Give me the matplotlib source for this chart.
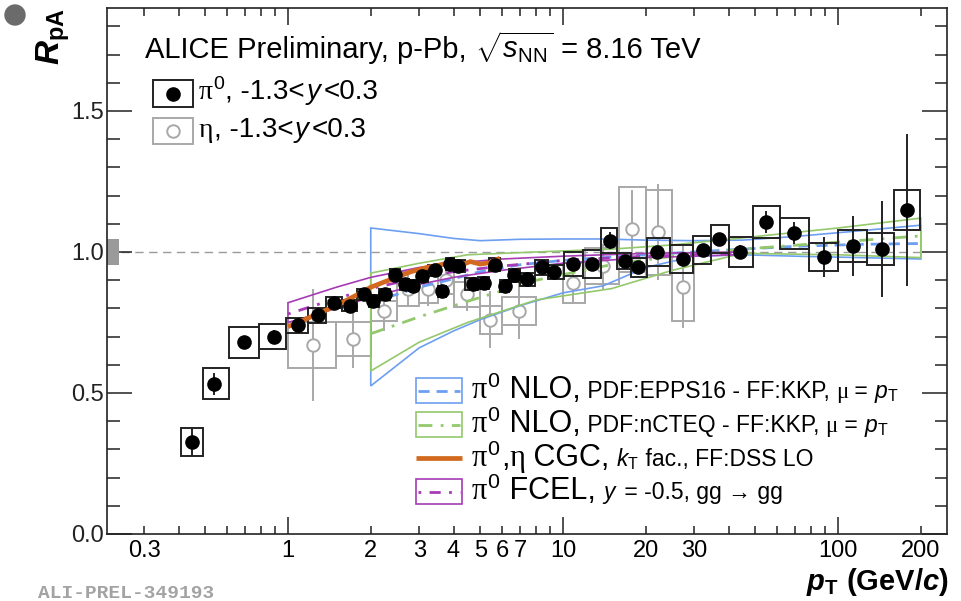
import numpy as np
import matplotlib
matplotlib.use('Agg')
import matplotlib.pyplot as plt
from matplotlib.patches import Rectangle, Circle
from matplotlib.offsetbox import TextArea, HPacker, AnnotationBbox
from matplotlib.ticker import FixedLocator, NullFormatter
import matplotlib.transforms as mtrans

plt.rcParams['font.family'] = ['Liberation Sans', 'DejaVu Sans']
plt.rcParams['mathtext.fontset'] = 'custom'
plt.rcParams['mathtext.rm'] = 'Liberation Sans'
plt.rcParams['mathtext.it'] = 'Liberation Sans:italic'
plt.rcParams['mathtext.bf'] = 'Liberation Sans:bold'
plt.rcParams['mathtext.bfit'] = 'Liberation Sans:bold:italic'

# ---------------- data ----------------
pi0_pt = [0.448, 0.538, 0.69, 0.89, 1.09, 1.29, 1.47, 1.68, 1.89, 2.04, 2.25, 2.45, 2.66, 2.85,
          3.07, 3.42, 3.63, 3.88, 4.15, 4.7, 5.16, 5.66, 6.15, 6.63, 7.4, 8.4, 9.3, 10.9, 12.8,
          14.8, 16.8, 18.7, 21.9, 27.3, 32.3, 36.9, 44.0, 54.6, 69.0, 88.9, 113.0, 144.0, 178.0]
pi0_R = [0.326, 0.532, 0.68, 0.70, 0.74, 0.775, 0.82, 0.81, 0.85, 0.826, 0.85, 0.92, 0.885, 0.88,
         0.915, 0.935, 0.86, 0.957, 0.95, 0.886, 0.89, 0.955, 0.88, 0.917, 0.903, 0.945, 0.93, 0.956,
         0.957, 1.04, 0.968, 0.945, 1.0, 0.975, 1.007, 1.045, 1.0, 1.106, 1.067, 0.982, 1.02, 1.01, 1.149]
pi0_stat = [0.05, 0.04, 0.02, 0.025, 0.015, 0.015, 0.012, 0.012, 0.01, 0.01, 0.01, 0.01, 0.01, 0.01,
            0.01, 0.01, 0.01, 0.01, 0.01, 0.01, 0.01, 0.012, 0.012, 0.012, 0.012, 0.012, 0.012, 0.015,
            0.015, 0.03, 0.02, 0.02, 0.02, 0.02, 0.02, 0.02, 0.025, 0.04, 0.04, 0.07, 0.107, 0.17, 0.27]
pi0_sys = [0.05, 0.055, 0.055, 0.043, 0.027, 0.027, 0.02, 0.02, 0.02, 0.02, 0.02, 0.02, 0.02, 0.02,
           0.02, 0.02, 0.02, 0.02, 0.02, 0.022, 0.022, 0.022, 0.022, 0.022, 0.022, 0.025, 0.025, 0.043,
           0.05, 0.045, 0.03, 0.035, 0.048, 0.05, 0.048, 0.05, 0.052, 0.057, 0.055, 0.05, 0.057, 0.057, 0.07]

eta_pt = [1.23, 1.73, 2.24, 2.73, 3.24, 3.74, 4.47, 5.45, 6.9, 10.9, 14.0, 17.8, 22.2, 27.4]
eta_bin_lo = [1.0, 1.5, 2.0, 2.5, 3.0, 3.5, 4.0, 5.0, 6.0, 10.0, 12.0, 16.0, 20.0, 25.0]
eta_bin_hi = [1.5, 2.0, 2.5, 3.0, 3.5, 4.0, 5.0, 6.0, 8.0, 12.0, 16.0, 20.0, 25.0, 30.0]
eta_R = [0.67, 0.69, 0.79, 0.87, 0.87, 0.90, 0.85, 0.76, 0.79, 0.89, 0.95, 1.08, 1.07, 0.875]
eta_stat = [0.20, 0.10, 0.07, 0.06, 0.06, 0.06, 0.06, 0.10, 0.10, 0.07, 0.08, 0.14, 0.17, 0.145]
eta_sys = [0.08, 0.06, 0.035, 0.06, 0.05, 0.05, 0.045, 0.05, 0.05, 0.07, 0.065, 0.15, 0.15, 0.12]

norm_unc = 0.046

epps_pt = [2, 3, 4, 5, 7, 10, 14, 20, 30, 45, 70, 120, 200]
epps_up = [1.085, 1.065, 1.048, 1.04, 1.045, 1.046, 1.046, 1.042, 1.04, 1.042, 1.055, 1.075, 1.095]
epps_c = [0.82, 0.875, 0.905, 0.93, 0.955, 0.97, 0.98, 0.99, 1.0, 1.01, 1.02, 1.027, 1.03]
epps_lo = [0.525, 0.66, 0.72, 0.76, 0.81, 0.855, 0.88, 0.945, 0.985, 0.99, 0.985, 0.98, 0.975]

ncteq_pt = [2, 3, 4.5, 8, 15, 25, 45, 100, 200]
ncteq_up = [0.925, 0.96, 0.99, 1.0, 1.01, 1.025, 1.05, 1.085, 1.12]
ncteq_c = [0.71, 0.77, 0.825, 0.9, 0.955, 0.985, 1.01, 1.035, 1.057]
ncteq_lo = [0.578, 0.68, 0.75, 0.83, 0.87, 0.935, 0.995, 0.99, 0.98]

cgc_pt = [1.0, 1.2, 1.5, 1.8, 2.0, 2.4, 2.8, 3.2, 3.6, 4.0, 4.3, 4.6, 5.0, 5.4, 5.9]
cgc_R = [0.735, 0.768, 0.81, 0.85, 0.875, 0.905, 0.93, 0.945, 0.955, 0.967, 0.955, 0.966, 0.957, 0.962, 0.978]

fcel_pt = [1, 1.5, 2, 3, 4, 6, 10, 20, 44]
fcel_up = [0.82, 0.875, 0.91, 0.945, 0.96, 0.975, 0.985, 0.995, 1.0]
fcel_c = [0.78, 0.835, 0.87, 0.91, 0.93, 0.95, 0.97, 0.985, 0.995]
fcel_lo = [0.75, 0.80, 0.84, 0.885, 0.91, 0.935, 0.96, 0.98, 0.99]

xtick_vals = [0.3, 1, 2, 3, 4, 5, 6, 7, 10, 20, 30, 100, 200]
ytick_vals = [0.0, 0.5, 1.0, 1.5]

# ---------------- figure ----------------
W, H = 961, 601
fig = plt.figure(figsize=(W / 100, H / 100), dpi=100)
L, R_, B, T = 107, 947, 534, 8
ax = fig.add_axes([L / W, (H - B) / H, (R_ - L) / W, (B - T) / H])
ax.set_xscale('log')
ax.set_xlim(0.2198, 249)
ax.set_ylim(0, 1.865)

BLUE = '#6d9ff0'
GREEN = '#93c86c'
ORANGE = '#d2691e'
PURPLE = '#a63bb5'
GRAY = '#a8a8a8'

# reference line and normalisation box
ax.plot([0.2198, 200], [1, 1], color='#9a9a9a', lw=1.0, ls=(0, (6, 4)), zorder=1)
tr = mtrans.blended_transform_factory(ax.transAxes, ax.transData)
ax.add_patch(Rectangle((0, 1 - norm_unc), 12 / (R_ - L), 2 * norm_unc, transform=tr,
                       facecolor='#9a9a9a', edgecolor='none', zorder=2))

# eta
for p, lo, hi, r, s in zip(eta_pt, eta_bin_lo, eta_bin_hi, eta_R, eta_sys):
    ax.add_patch(Rectangle((lo, r - s), hi - lo, 2 * s, facecolor='none', edgecolor=GRAY, lw=1.4, zorder=3))
ax.errorbar(eta_pt, eta_R, yerr=eta_stat, fmt='none', ecolor=GRAY, elinewidth=1.4, capsize=0, zorder=3)
ax.plot(eta_pt, eta_R, 'o', ms=9, mfc='white', mec=GRAY, mew=1.4, zorder=4)


def band(pt, up, c, lo, color, ls):
    pt = np.asarray(pt)
    ax.fill(np.r_[pt, pt[::-1]], np.r_[up, lo[::-1]], facecolor='none', edgecolor=color, lw=1.2, zorder=5)
    ax.plot(pt, c, color=color, lw=2.0, ls=ls, zorder=5)


band(epps_pt, epps_up, epps_c, np.asarray(epps_lo), BLUE, (0, (4, 2.5)))
band(ncteq_pt, ncteq_up, ncteq_c, np.asarray(ncteq_lo), GREEN, (0, (5, 3, 1, 3)))
band(fcel_pt, fcel_up, fcel_c, np.asarray(fcel_lo), PURPLE, (0, (1, 3, 4, 3)))

# pi0 boxes
lp = np.log10(pi0_pt)
mid = (lp[1:] + lp[:-1]) / 2
edges_lo = 10 ** np.r_[2 * lp[0] - mid[0], mid]
edges_hi = 10 ** np.r_[mid, 2 * lp[-1] - mid[-1]]
for lo, hi, r, s in zip(edges_lo, edges_hi, pi0_R, pi0_sys):
    ax.add_patch(Rectangle((lo, r - s), hi - lo, 2 * s, facecolor='none', edgecolor='#222222', lw=1.4, zorder=6))

ax.plot(cgc_pt, cgc_R, color=ORANGE, lw=3.4, zorder=7, solid_capstyle='butt')

ax.errorbar(pi0_pt, pi0_R, yerr=pi0_stat, fmt='none', ecolor='#222222', elinewidth=1.4, capsize=0, zorder=8)
ax.plot(pi0_pt, pi0_R, 'o', ms=9.5, color='black', zorder=9)

# axes styling
for sp in ax.spines.values():
    sp.set_linewidth(1.2)
    sp.set_color('#222222')
ax.xaxis.set_major_locator(FixedLocator([1, 10, 100]))
ax.xaxis.set_major_formatter(NullFormatter())
minors = [0.3, 0.4, 0.5, 0.6, 0.7, 0.8, 0.9] + list(range(2, 10)) + list(range(20, 100, 10)) + [200]
ax.xaxis.set_minor_locator(FixedLocator(minors))
ax.xaxis.set_minor_formatter(NullFormatter())
ax.yaxis.set_major_locator(FixedLocator(ytick_vals))
ax.yaxis.set_minor_locator(FixedLocator(np.arange(0.1, 1.9, 0.1)))
ax.set_yticklabels([f'{v:.1f}' for v in ytick_vals])
ax.tick_params(which='both', direction='in', top=True, right=True, colors='#222222', width=1.1)
ax.tick_params(axis='y', which='major', length=18, labelsize=17, pad=2)
ax.tick_params(axis='y', which='minor', length=9)
ax.tick_params(axis='x', which='major', length=12)
ax.tick_params(axis='x', which='minor', length=6)
xtr = mtrans.blended_transform_factory(ax.transData, ax.transAxes)
for v in xtick_vals:
    ax.text(v, -0.011, f'{v:g}', transform=xtr, ha='center', va='top', fontsize=17)

# overlay in pixel coordinates
ov = fig.add_axes([0, 0, 1, 1], facecolor='none')
ov.set_xlim(0, W)
ov.set_ylim(H, 0)
ov.axis('off')

ov.add_patch(Circle((15, 15), 10, color='#6b6b6b'))
ov.text(38, 594, 'ALI-PREL-349193', family='Liberation Mono', weight='bold', color='#a3a3a3',
        fontsize=14, ha='left', va='center')
ov.text(53, 8, r'$\mathbfit{R}_{\mathbf{pA}}$', rotation=90, ha='center', va='top', fontsize=24)
ov.text(949, 582, r'$\mathbfit{p}_{\mathbf{T}}$ (GeV/$\mathbfit{c}$)', ha='right', va='center',
        fontsize=21, weight='bold')


def rich(x, y, parts):
    kids = []
    for s, size, fam in parts:
        props = dict(fontsize=size, color='black')
        if fam == 'serif':
            props['family'] = ['Liberation Serif', 'DejaVu Serif']
        kids.append(TextArea(s, textprops=props))
    box = HPacker(children=kids, align='baseline', pad=0, sep=0)
    ab = AnnotationBbox(box, (x, y), xycoords=ov.transData, box_alignment=(0, 0.5),
                        frameon=False, pad=0)
    ov.add_artist(ab)


BIG, SMALL = 22, 16.5
rich(145, 47, [('ALICE Preliminary, p-Pb, ', 21, 'sans'), (r'$\sqrt{s_{\mathrm{NN}}}$', 21, 'sans'),
               (' = 8.16 TeV', 21, 'sans')])

# top legend
ov.add_patch(Rectangle((153, 80), 40, 27, facecolor='none', edgecolor='#222222', lw=1.4))
ov.plot([173], [93.5], 'o', ms=9.5, color='black')
rich(199, 93, [('π', 20, 'serif'), (r'$^{0}$', 20, 'sans'), (', -1.3<', 20, 'sans'), (r'$y$', 20, 'sans'),
               ('<0.3', 20, 'sans')])
ov.add_patch(Rectangle((153, 118), 40, 26, facecolor='none', edgecolor=GRAY, lw=1.4))
ov.plot([173], [131], 'o', ms=9, mfc='white', mec=GRAY, mew=1.4)
rich(199, 131, [('η', 20, 'serif'), (', -1.3<', 20, 'sans'), (r'$y$', 20, 'sans'), ('<0.3', 20, 'sans')])

# bottom legend
rows = [390, 424, 458, 491]
ov.add_patch(Rectangle((416, rows[0] - 12), 46, 25, facecolor='none', edgecolor=BLUE, lw=1.2))
ov.plot([418, 460], [rows[0] + 0.5] * 2, color=BLUE, lw=2, ls=(0, (4, 2.5)))
ov.add_patch(Rectangle((416, rows[1] - 12), 46, 25, facecolor='none', edgecolor=GREEN, lw=1.2))
ov.plot([418, 460], [rows[1] + 0.5] * 2, color=GREEN, lw=2, ls=(0, (5, 3, 1, 3)))
ov.plot([416, 462], [rows[2], rows[2]], color=ORANGE, lw=3.4, solid_capstyle='butt')
ov.add_patch(Rectangle((416, rows[3] - 12), 46, 25, facecolor='none', edgecolor=PURPLE, lw=1.2))
ov.plot([418, 460], [rows[3] + 0.5] * 2, color=PURPLE, lw=2, ls=(0, (1, 3, 4, 3)))

rich(472, rows[0], [('π', BIG, 'serif'), (r'$^{0}$', BIG, 'sans'), (' NLO,', BIG, 'sans'),
                    (' PDF:EPPS16 - FF:KKP, ', SMALL, 'sans'), ('μ', SMALL, 'serif'),
                    (' = ', SMALL, 'sans'), (r'$p_{\mathrm{T}}$', SMALL, 'sans')])
rich(472, rows[1], [('π', BIG, 'serif'), (r'$^{0}$', BIG, 'sans'), (' NLO,', BIG, 'sans'),
                    (' PDF:nCTEQ - FF:KKP, ', SMALL, 'sans'), ('μ', SMALL, 'serif'),
                    (' = ', SMALL, 'sans'), (r'$p_{\mathrm{T}}$', SMALL, 'sans')])
rich(472, rows[2], [('π', BIG, 'serif'), (r'$^{0}$', BIG, 'sans'), (',', BIG, 'sans'), ('η', BIG, 'serif'),
                    (' CGC,', BIG, 'sans'), (' ', SMALL, 'sans'), (r'$k_{\mathrm{T}}$', SMALL, 'sans'),
                    (' fac., FF:DSS LO', SMALL, 'sans')])
rich(472, rows[3], [('π', BIG, 'serif'), (r'$^{0}$', BIG, 'sans'), (' FCEL,', BIG, 'sans'),
                    (' ', SMALL, 'sans'), (r'$y$', SMALL, 'sans'), (' = -0.5, gg → gg', SMALL, 'sans')])

fig.savefig('out.png', dpi=100)
